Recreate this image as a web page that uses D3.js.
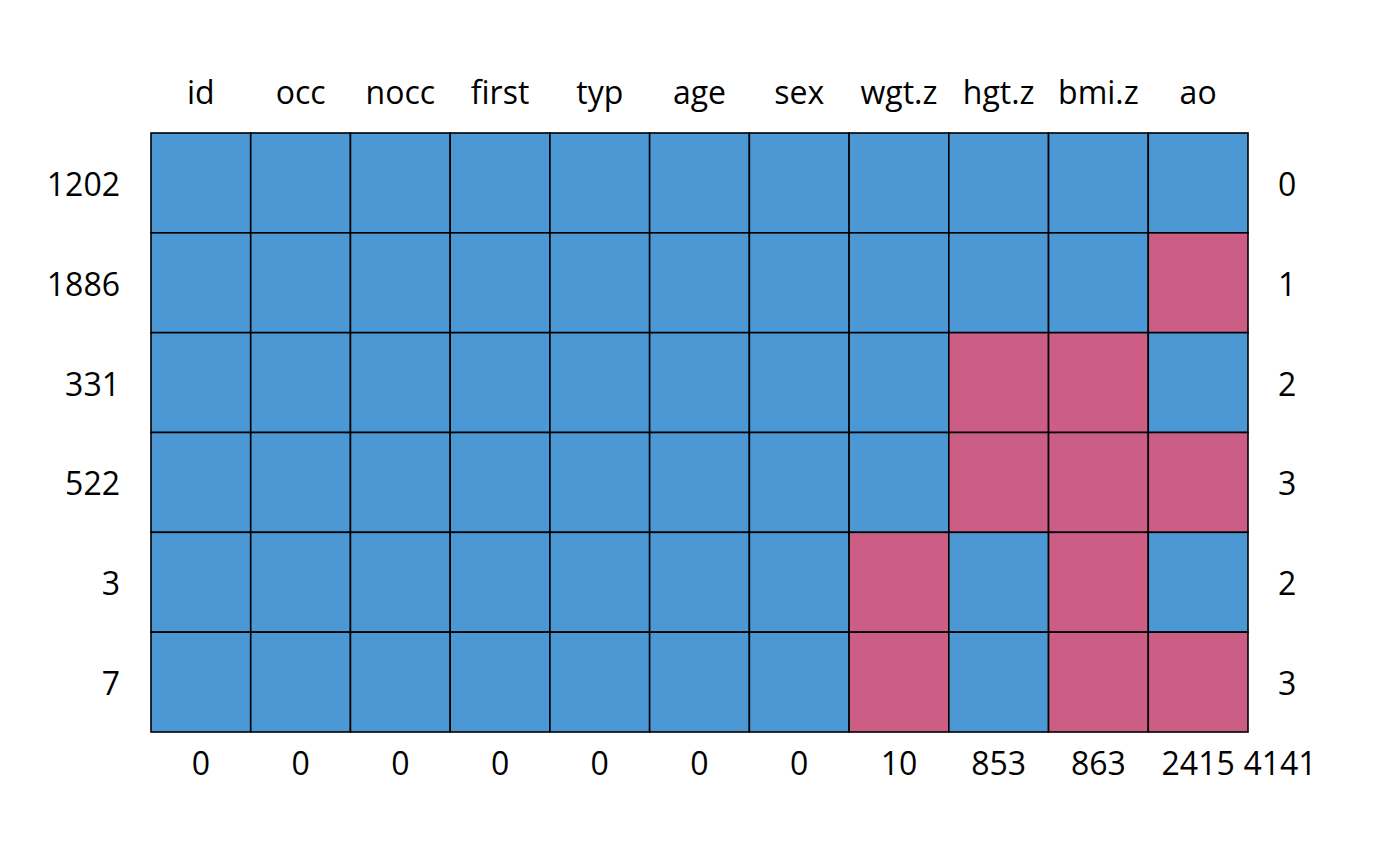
<!DOCTYPE html>
<html>
<head>
<meta charset="utf-8">
<script src="https://cdn.jsdelivr.net/npm/d3@7"></script>
<style>
  body { margin: 0; background: #fff; }
  text { font-family: "Open Sans", "Noto Sans", sans-serif; font-size: 32px; fill: #000; }
</style>
</head>
<body>
<script>
// missing data pattern
var vars = ["id", "occ", "nocc", "first", "typ", "age", "sex", "wgt.z", "hgt.z", "bmi.z", "ao"];
var rowCounts = ["1202", "1886", "331", "522", "3", "7"];
var rowMissing = [0, 1, 2, 3, 2, 3];
var colMissing = [0, 0, 0, 0, 0, 0, 0, 10, 853, 863, 2415];
var totalMissing = 4141;
// 1 = observed, 0 = missing
var patterns = [
  [1, 1, 1, 1, 1, 1, 1, 1, 1, 1, 1],
  [1, 1, 1, 1, 1, 1, 1, 1, 1, 1, 0],
  [1, 1, 1, 1, 1, 1, 1, 1, 0, 0, 1],
  [1, 1, 1, 1, 1, 1, 1, 1, 0, 0, 0],
  [1, 1, 1, 1, 1, 1, 1, 0, 1, 0, 1],
  [1, 1, 1, 1, 1, 1, 1, 0, 1, 0, 0]
];

var W = 1400, H = 866;
var gLeft = 151, gRight = 1248, gTop = 133, gBottom = 732;

var svg = d3.select("body").append("svg")
  .attr("width", W)
  .attr("height", H);

var x = d3.scaleBand().domain(d3.range(vars.length)).range([gLeft, gRight]);
var y = d3.scaleBand().domain(d3.range(rowCounts.length)).range([gTop, gBottom]);
var fill = d3.scaleOrdinal().domain([1, 0]).range(["#4C98D4", "#CC5E85"]);

var cells = [];
patterns.forEach(function(row, i) {
  row.forEach(function(v, j) { cells.push({ r: i, c: j, v: v }); });
});

svg.selectAll("rect.cell")
  .data(cells)
  .enter().append("rect")
    .attr("class", "cell")
    .attr("x", function(d) { return x(d.c); })
    .attr("y", function(d) { return y(d.r); })
    .attr("width", x.bandwidth())
    .attr("height", y.bandwidth())
    .attr("fill", function(d) { return fill(d.v); })
    .attr("stroke", "#000")
    .attr("stroke-width", 1.6);

// top: variable names
svg.selectAll("text.var")
  .data(vars)
  .enter().append("text")
    .attr("class", "var")
    .attr("x", function(d, i) { return x(i) + x.bandwidth() / 2; })
    .attr("y", 104)
    .attr("text-anchor", "middle")
    .text(function(d) { return d; });

// left: pattern frequencies
svg.selectAll("text.count")
  .data(rowCounts)
  .enter().append("text")
    .attr("class", "count")
    .attr("x", 120)
    .attr("y", function(d, i) { return y(i) + y.bandwidth() / 2 + 13; })
    .attr("text-anchor", "end")
    .text(function(d) { return d; });

// right: missing per pattern
svg.selectAll("text.rmiss")
  .data(rowMissing)
  .enter().append("text")
    .attr("class", "rmiss")
    .attr("x", 1278)
    .attr("y", function(d, i) { return y(i) + y.bandwidth() / 2 + 13; })
    .attr("text-anchor", "start")
    .text(function(d) { return d; });

// bottom: missing per variable
svg.selectAll("text.cmiss")
  .data(colMissing)
  .enter().append("text")
    .attr("class", "cmiss")
    .attr("x", function(d, i) { return x(i) + x.bandwidth() / 2; })
    .attr("y", 775)
    .attr("text-anchor", "middle")
    .text(function(d) { return d; });

svg.append("text")
  .attr("x", 1280)
  .attr("y", 775)
  .attr("text-anchor", "middle")
  .text(totalMissing);
</script>
</body>
</html>
